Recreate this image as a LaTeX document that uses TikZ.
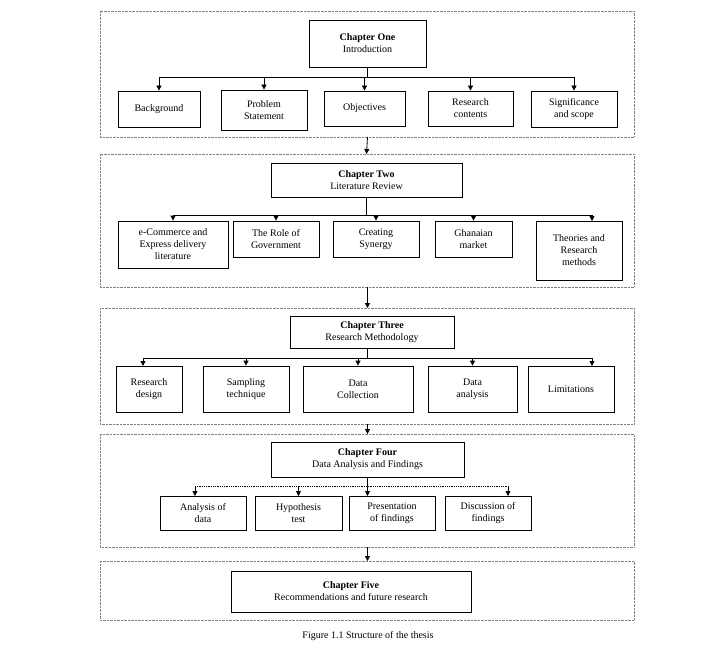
\documentclass[tikz,border=0pt]{standalone}
\usepackage{fontspec}
\setmainfont{Liberation Serif}
\usetikzlibrary{arrows.meta, positioning}
\tikzset{
  panel/.style={draw=gray, densely dotted},
  chap/.style={draw, thick, align=center, font=\normalsize, inner sep=2pt},
  item/.style={draw, thick, align=center, font=\normalsize, inner sep=1pt},
  link/.style={-{Triangle[length=5pt,width=5pt]}, thick},
}
\begin{document}
\begin{tikzpicture}[x=1pt, y=-1pt]
    \useasboundingbox (0,0) rectangle (720,650);
    % Panels
    \foreach \top/\bot in {11/137, 154/287, 308/424, 434/547, 561/620}
    \draw[panel] (100,\top) rectangle (634,\bot);

    % Chapter One
    \node[chap, minimum width=117pt, minimum height=47pt] (c1) at (367.5,43.5) {\textbf{Chapter One}\\Introduction};
    \node[item, minimum width=82pt, minimum height=36pt] (b1) at (159,109) {Background};
    \node[item, minimum width=86pt, minimum height=40pt] (b2) at (264,110) {Problem\\Statement};
    \node[item, minimum width=81pt, minimum height=35pt] (b3) at (364.5,108.5) {Objectives};
    \node[item, minimum width=85pt, minimum height=35pt] (b4) at (470.5,108.5) {Research\\contents};
    \node[item, minimum width=86pt, minimum height=36pt] (b5) at (574,109) {Significance\\and scope};
    \coordinate (j1) at (367.5,77);
    \draw[thick] (c1.south) -- (j1);
    \draw[thick] (159,77) -- (574,77);
    \foreach \n in {b1,b2,b3,b4,b5}
    \draw[link] (\n.north |- j1) -- (\n.north);

    % Chapter Two
    \node[chap, minimum width=191pt, minimum height=34pt] (c2) at (366.5,180) {\textbf{Chapter Two}\\Literature Review};
    \node[item, minimum width=110pt, minimum height=47pt] (l1) at (173,244.5) {e-Commerce and\\Express delivery\\literature};
    \node[item, minimum width=86pt, minimum height=36pt] (l2) at (276,239) {The Role of\\Government};
    \node[item, minimum width=86pt, minimum height=36pt] (l3) at (376,239) {Creating\\Synergy};
    \node[item, minimum width=77pt, minimum height=36pt] (l4) at (473.5,239) {Ghanaian\\market};
    \node[item, minimum width=86pt, minimum height=59pt] (l5) at (579,250.5) {Theories and\\Research\\methods};
    \coordinate (j2) at (366.5,215);
    \draw[thick] (c2.south) -- (j2);
    \draw[thick] (173,215) -- (592,215);
    \foreach \n in {l1,l2,l3,l4}
    \draw[link] (\n.north |- j2) -- (\n.north);
    \draw[link] (592,215) -- (592,221);

    % Chapter Three
    \node[chap, minimum width=164pt, minimum height=32pt] (c3) at (372,332) {\textbf{Chapter Three}\\Research Methodology};
    \node[item, minimum width=66pt, minimum height=46pt] (m1) at (149,389) {Research\\design};
    \node[item, minimum width=86pt, minimum height=46pt] (m2) at (246,389) {Sampling\\technique};
    \node[item, minimum width=110pt, minimum height=46pt] (m3) at (358,389) {Data\\Collection};
    \node[item, minimum width=89pt, minimum height=46pt] (m4) at (472.5,389) {Data\\analysis};
    \node[item, minimum width=86pt, minimum height=46pt] (m5) at (571,389) {Limitations};
    \coordinate (j3) at (367,358);
    \draw[thick] (c3.south -| j3) -- (j3);
    \draw[thick] (143,358) -- (592,358);
    \draw[link] (143,358) -- (143,366);
    \foreach \n in {m2,m3,m4}
    \draw[link] (\n.north |- j3) -- (\n.north);
    \draw[link] (592,358) -- (592,366);

    % Chapter Four
    \node[chap, minimum width=193pt, minimum height=35pt] (c4) at (367.5,459.5) {\textbf{Chapter Four}\\Data Analysis and Findings};
    \node[item, minimum width=86pt, minimum height=34pt] (f1) at (203,513) {Analysis of\\data};
    \node[item, minimum width=87pt, minimum height=34pt] (f2) at (298.5,513) {Hypothesis\\test};
    \node[item, minimum width=86pt, minimum height=34pt] (f3) at (392,513) {Presentation\\of findings};
    \node[item, minimum width=86pt, minimum height=34pt] (f4) at (488,513) {Discussion of\\findings};
    \coordinate (j4) at (367.5,486);
    \draw[thick] (c4.south) -- (j4);
    \draw[thick, densely dotted] (195,486) -- (508,486);
    \draw[link] (195,486) -- (195,496);
    \draw[link] (298.5,486) -- (298.5,496);
    \draw[link] (j4) -- (367.5,496);
    \draw[link] (508,486) -- (508,496);

    % Chapter Five
    \node[chap, minimum width=240pt, minimum height=41pt] (c5) at (351,591.5) {\textbf{Chapter Five}\\Recommendations and future research};

    % Between panels
    \draw[link] (367.5,137) -- (c2.north |- 0,154);
    \draw[link] (367.5,287) -- (367.5,308);
    \draw[link] (367.5,424) -- (367.5,434);
    \draw[link] (367.5,547) -- (367.5,561);

    \node[font=\normalsize] (cap) at (368,636) {Figure 1.1 Structure of the thesis};
\end{tikzpicture}
\end{document}
